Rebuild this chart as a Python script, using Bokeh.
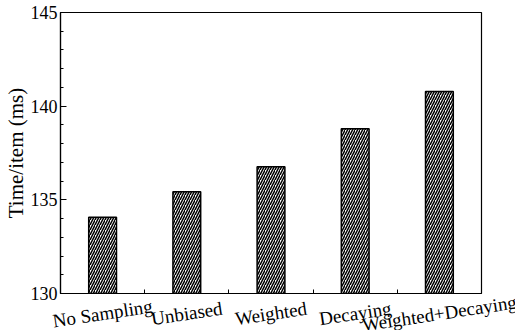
from bokeh.plotting import figure
from bokeh.models import Range1d, FixedTicker, ColumnDataSource
from bokeh.core.properties import value
from bokeh.embed import file_html
from bokeh.resources import INLINE

categories = ["No Sampling", "Unbiased", "Weighted", "Decaying", "Weighted+Decaying"]
time_per_item = [134.07, 135.43, 136.76, 138.79, 140.78]
y_ticks = [130, 135, 140, 145]

FONT = "'Liberation Serif', 'Times New Roman', serif"
n = len(categories)
xs = [i + 0.5 for i in range(n)]

p = figure(width=515, height=330, output_backend="svg", toolbar_location=None,
           x_range=Range1d(0, n), y_range=Range1d(130, 145),
           min_border_left=59, min_border_right=34, min_border_top=12, min_border_bottom=37)

p.vbar(x=xs, top=time_per_item, bottom=130, width=0.33,
       fill_color="white", line_color="black", line_width=1.5,
       hatch_pattern="/", hatch_color="black", hatch_scale=5, hatch_weight=1.5)

p.grid.visible = False
p.outline_line_color = "black"
p.outline_line_width = 1.2

# y axis
ya = p.yaxis[0]
ya.ticker = FixedTicker(ticks=y_ticks, minor_ticks=[v for v in range(130, 146)])
ya.major_tick_in = 6
ya.major_tick_out = 0
ya.minor_tick_in = 3
ya.minor_tick_out = 0
ya.major_label_text_font = FONT
ya.major_label_text_font_size = "18px"
ya.major_label_text_color = "black"
ya.major_label_standoff = 3
ya.axis_label = "Time/item (ms)"
ya.axis_label_text_font = FONT
ya.axis_label_text_font_size = "21px"
ya.axis_label_text_font_style = "normal"
ya.axis_label_text_color = "black"
ya.axis_label_standoff = 0
ya.axis_line_color = "black"
ya.axis_line_width = 1.2

# x axis: ticks at category boundaries
xa = p.xaxis[0]
xa.ticker = FixedTicker(ticks=list(range(1, n)), minor_ticks=[])
xa.major_tick_in = 4
xa.major_tick_out = 0
xa.minor_tick_in = 0
xa.minor_tick_out = 0
xa.major_label_overrides = {i: "" for i in range(1, n)}
xa.axis_line_color = "black"
xa.axis_line_width = 1.2

src = ColumnDataSource(dict(x=xs, y=[130] * n, text=categories))
p.text(x="x", y="y", text="text", y_offset=20, source=src, level="overlay",
       angle=0.15, text_align="center", text_baseline="alphabetic",
       text_font=value(FONT), text_font_size="19px", text_color="black")

open("out.html", "w").write(file_html(p, INLINE))
